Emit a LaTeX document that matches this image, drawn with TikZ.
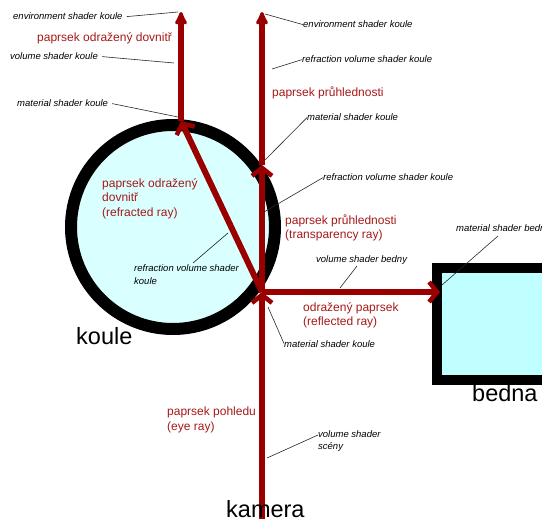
\documentclass[tikz,border=0pt]{standalone}
\usepackage{fontspec}
\setmainfont{Liberation Sans}
\usetikzlibrary{arrows.meta}
\definecolor{raycol}{RGB}{155,0,0}
\definecolor{txtred}{RGB}{165,25,25}
\definecolor{ballfill}{RGB}{217,255,255}
\definecolor{boxfill}{RGB}{192,255,255}
\begin{document}
\begin{tikzpicture}[x=1pt,y=-1pt,
  ray/.style={line width=6pt, draw=raycol},
  barb/.style={-{Straight Barb[length=8pt,width=20pt,line width=4.5pt]}},
  tipend/.style={-{Latex[length=16pt,width=15pt,round]}},
  redlbl/.style={font=\fontsize{12}{14.7}\selectfont, text=txtred, inner sep=0pt, anchor=base west, align=left},
  biglbl/.style={font=\fontsize{23.5}{26}\selectfont, inner sep=0pt, anchor=base west},
  shlbl/.style={font=\fontsize{9.5}{12.5}\selectfont\itshape, inner sep=0pt, anchor=base west, align=left},
  leader/.style={draw=black!85, line width=0.6pt}]
\useasboundingbox (0,0) rectangle (542,519);
% objects
\draw[line width=12pt, fill=ballfill] (173,227) circle[radius=102pt];
\draw[line width=10pt, fill=boxfill] (437,268) rectangle (560,380);
% ray points
\coordinate (cam) at (262,522);
\coordinate (hit) at (262,292);
\coordinate (exitT) at (262,165);
\coordinate (topT) at (262,12);
\coordinate (entR) at (181,121);
\coordinate (topR) at (181,12);
\coordinate (boxhit) at (440,292);
% rays
\draw[ray, barb] (cam) -- (hit);
\draw[ray, barb] (hit) -- (exitT);
\draw[ray, tipend] (exitT) -- (topT);
\draw[ray, barb] (hit) -- (entR);
\draw[ray, tipend] (entR) -- (topR);
\draw[ray, barb] (hit) -- (boxhit);
% big labels
\node[biglbl] (koule) at (76,344) {koule};
\node[biglbl] (bedna) at (472,401) {bedna};
\node[biglbl] (kamera) at (226,517) {kamera};
% red labels (base = last line)
\node[redlbl] (rl1) at (37,42) {paprsek odražený dovnitř};
\node[redlbl] (rl2) at (272,97) {paprsek průhlednosti};
\node[redlbl] (rl3) at (102,216.5) {paprsek odražený\\dovnitř\\(refracted ray)};
\node[redlbl] (rl4) at (285,239) {paprsek průhlednosti\\(transparency ray)};
\node[redlbl] (rl5) at (303,326) {odražený paprsek\\(reflected ray)};
\node[redlbl] (rl6) at (167,430) {paprsek pohledu\\(eye ray)};
% shader labels
\node[shlbl] (e1) at (13,20) {environment shader koule};
\node[shlbl] (v1) at (10,60) {volume shader koule};
\node[shlbl] (m1) at (17,107) {material shader koule};
\node[shlbl] (e2) at (303,28) {environment shader koule};
\node[shlbl] (r1) at (302,63) {refraction volume shader koule};
\node[shlbl] (m2) at (307,121) {material shader koule};
\node[shlbl] (r2) at (323,181) {refraction volume shader koule};
\node[shlbl] (mb) at (456,232) {material shader bedna};
\node[shlbl] (vb) at (316,262) {volume shader bedny};
\node[shlbl] (r3) at (134,284) {refraction volume shader\\koule};
\node[shlbl] (m3) at (284,347) {material shader koule};
\node[shlbl] (vs) at (318,449.5) {volume shader\\scény};
% leader end points
\coordinate (p1) at (178,12);
\coordinate (p2) at (174,63);
\coordinate (p3) at (178,117);
\coordinate (p4) at (265,14);
\coordinate (p5) at (272,69);
\coordinate (p6) at (265,160);
\coordinate (p7) at (264,212);
\coordinate (p8) at (442,285);
\coordinate (p9) at (340,288);
\coordinate (p10) at (228,233);
\coordinate (p11) at (268,307);
\coordinate (p12) at (267,458);
\coordinate (s8) at (498,236);
\coordinate (s9) at (357,266);
\coordinate (s10) at (193,263);
\coordinate (s12) at (318,435);
% leaders
\draw[leader] ([xshift=4pt]e1.east) -- (p1);
\draw[leader] ([xshift=4pt]v1.east) -- (p2);
\draw[leader] ([xshift=4pt]m1.east) -- (p3);
\draw[leader] (e2.west) -- (p4);
\draw[leader] (r1.west) -- (p5);
\draw[leader] (m2.west) -- (p6);
\draw[leader] (r2.west) -- (p7);
\draw[leader] (s8) -- (p8);
\draw[leader] (s9) -- (p9);
\draw[leader] (s10) -- (p10);
\draw[leader] (m3.west) -- (p11);
\draw[leader] (s12) -- (p12);
\end{tikzpicture}
\end{document}
